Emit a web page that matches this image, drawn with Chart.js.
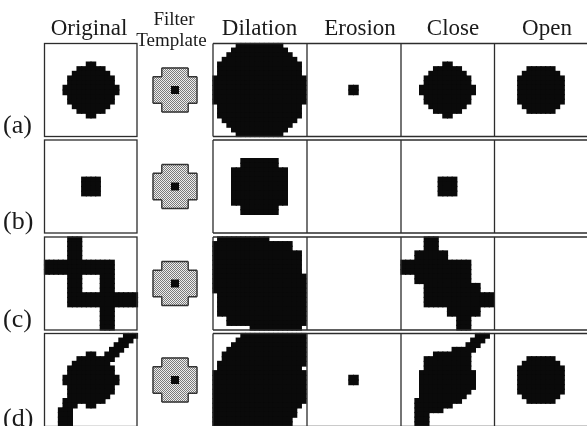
<!DOCTYPE html>
<html><head><meta charset="utf-8">
<script src="https://cdn.jsdelivr.net/npm/chart.js@4.4.1/dist/chart.umd.min.js"></script>
<style>html,body{margin:0;padding:0;background:#fff}#wrap{position:relative;width:587px;height:426px}</style>
</head><body><div id="wrap"><canvas id="c"></canvas></div>
<script>
// ---------------- data ----------------
const COLUMN_HEADERS = ['Original', 'Dilation', 'Erosion', 'Close', 'Open'];
const TEMPLATE_HEADER = ['Filter', 'Template'];
const ROW_LABELS = ['(a)', '(b)', '(c)', '(d)'];

// 10x10 structuring element: '#' = member, '@' = origin, '.' = outside
const FILTER_TEMPLATE = [
"..######..",
"..######..",
"##########",
"##########",
"####@@####",
"####@@####",
"##########",
"##########",
"..######..",
"..######.."
];

// 20x20 binary images ('#' = black pixel)
const ORIGINAL_A = [
"....................",
"....................",
"....................",
"....................",
".........##.........",
".......######.......",
"......########......",
".....##########.....",
".....##########.....",
"....############....",
"....############....",
".....##########.....",
".....##########.....",
"......########......",
".......######.......",
".........##.........",
"....................",
"....................",
"....................",
"...................."
];
const DILATION_A = [
".....##########.....",
"....############....",
"...##############...",
"..################..",
".##################.",
".##################.",
".##################.",
"####################",
"####################",
"####################",
"####################",
"####################",
"####################",
".##################.",
".##################.",
".##################.",
"..################..",
"...##############...",
"....############....",
".....##########....."
];
const EROSION_A = [
"....................",
"....................",
"....................",
"....................",
"....................",
"....................",
"....................",
"....................",
"....................",
".........##.........",
".........##.........",
"....................",
"....................",
"....................",
"....................",
"....................",
"....................",
"....................",
"....................",
"...................."
];
const CLOSE_A = [
"....................",
"....................",
"....................",
"....................",
".........##.........",
".......######.......",
"......########......",
".....##########.....",
".....##########.....",
"....############....",
"....############....",
".....##########.....",
".....##########.....",
"......########......",
".......######.......",
".........##.........",
"....................",
"....................",
"....................",
"...................."
];
const OPEN_A = [
"....................",
"....................",
"....................",
"....................",
"....................",
".......######.......",
"......########......",
".....##########.....",
".....##########.....",
".....##########.....",
".....##########.....",
".....##########.....",
".....##########.....",
"......########......",
".......######.......",
"....................",
"....................",
"....................",
"....................",
"...................."
];

const ORIGINAL_B = [
"....................",
"....................",
"....................",
"....................",
"....................",
"....................",
"....................",
"....................",
"........####........",
"........####........",
"........####........",
"........####........",
"....................",
"....................",
"....................",
"....................",
"....................",
"....................",
"....................",
"...................."
];
const DILATION_B = [
"....................",
"....................",
"....................",
"....................",
"......########......",
"......########......",
"....############....",
"....############....",
"....############....",
"....############....",
"....############....",
"....############....",
"....############....",
"....############....",
"......########......",
"......########......",
"....................",
"....................",
"....................",
"...................."
];
const EROSION_B = [];
const CLOSE_B = [
"....................",
"....................",
"....................",
"....................",
"....................",
"....................",
"....................",
"....................",
"........####........",
"........####........",
"........####........",
"........####........",
"....................",
"....................",
"....................",
"....................",
"....................",
"....................",
"....................",
"...................."
];
const OPEN_B = [];

const ORIGINAL_C = [
".....###............",
".....###............",
".....###............",
".....###............",
".....###............",
"###############.....",
"###############.....",
"###############.....",
".....###....###.....",
".....###....###.....",
".....###....###.....",
".....###....###.....",
".....###############",
".....###############",
".....###############",
"............###.....",
"............###.....",
"............###.....",
"............###.....",
"............###....."
];
const DILATION_C = [
".###########........",
"#################...",
"#################...",
"###################.",
"###################.",
"###################.",
"###################.",
"###################.",
"####################",
"####################",
"####################",
"####################",
".###################",
".###################",
".###################",
".###################",
".###################",
"...#################",
"...#################",
"........###########."
];
const EROSION_C = [];
const CLOSE_C = [
".....###............",
".....###............",
".....###............",
"...#######..........",
"...#######..........",
"###############.....",
"###############.....",
"###############.....",
"...############.....",
"...############.....",
".....############...",
".....############...",
".....###############",
".....###############",
".....###############",
"..........#######...",
"..........#######...",
"............###.....",
"............###.....",
"............###....."
];
const OPEN_C = [];

const ORIGINAL_D = [
".................###",
"................###.",
"...............###..",
"..............###...",
".........##..###....",
".......########.....",
"......########......",
".....##########.....",
".....##########.....",
"....############....",
"....############....",
".....##########.....",
".....##########.....",
".....#########......",
"....#########.......",
"....###..##.........",
"...###..............",
"...###..............",
"...###..............",
"...###.............."
];
const DILATION_D = [
"......##############",
".....###############",
"....################",
"...#################",
"..##################",
"..##################",
".###################",
".##################.",
"####################",
"####################",
"####################",
"####################",
"####################",
"####################",
"####################",
"###################.",
"##################..",
"##################..",
"#################...",
"#################..."
];
const EROSION_D = [
"....................",
"....................",
"....................",
"....................",
"....................",
"....................",
"....................",
"....................",
"....................",
".........##.........",
".........##.........",
"....................",
"....................",
"....................",
"....................",
"....................",
"....................",
"....................",
"....................",
"...................."
];
const CLOSE_D = [
"................###.",
"...............###..",
"..............###...",
"...........#####....",
".......########.....",
".....##########.....",
".....##########.....",
".....##########.....",
"....############....",
"....############....",
"....############....",
"....############....",
"....###########.....",
"....##########......",
"...##########.......",
"...########.........",
"...######...........",
"...###..............",
"...###..............",
"...###.............."
];
const OPEN_D = [
"....................",
"....................",
"....................",
"....................",
"....................",
".......######.......",
"......########......",
".....##########.....",
".....##########.....",
".....##########.....",
".....##########.....",
".....##########.....",
".....##########.....",
"......########......",
".......######.......",
"....................",
"....................",
"....................",
"....................",
"...................."
];

// ---------------- layout ----------------
const W = 587, H = 426;
const ROW_TOP = [43.5, 140, 237, 333.5];
const PANEL_H = 93;
const CELL = 4.65;
const ORIG_LEFT = 44.5, ORIG_RIGHT = 137;
const RIGHT_LEFT = [213, 307, 401, 494.5];
const RIGHT_END = 590;
const TEMPLATE_CX = 175, TEMPLATE_CELL = 4.4;
const HEADER_X = [89, 259.5, 360, 453, 547];
const HEADER_BASE = 35;
const TEMPLATE_HDR_X = [174, 171.5], TEMPLATE_HDR_BASE = [25, 46];
const LABEL_BASE = [133, 229, 327, 426];

const ROWS = [
  [ORIGINAL_A, DILATION_A, EROSION_A, CLOSE_A, OPEN_A],
  [ORIGINAL_B, DILATION_B, EROSION_B, CLOSE_B, OPEN_B],
  [ORIGINAL_C, DILATION_C, EROSION_C, CLOSE_C, OPEN_C],
  [ORIGINAL_D, DILATION_D, EROSION_D, CLOSE_D, OPEN_D]
];
const PANEL_LEFT = [ORIG_LEFT, ...RIGHT_LEFT];

const canvas = document.getElementById('c');
const pc = document.createElement('canvas');
pc.width = 2; pc.height = 2;
const pctx = pc.getContext('2d');
pctx.fillStyle = '#eeeeee'; pctx.fillRect(0, 0, 2, 2);
pctx.fillStyle = '#7a7a7a'; pctx.fillRect(0, 0, 1, 1); pctx.fillRect(1, 1, 1, 1);
const dotPattern = canvas.getContext('2d').createPattern(pc, 'repeat');

function radiusFor(size, extra) {
  return (ctx) => {
    const xs = ctx.chart.scales.x;
    return (xs.getPixelForValue(size) - xs.getPixelForValue(0) + extra) / Math.SQRT2;
  };
}
function cellDataset(pts, size, fill, extra) {
  return {data: pts, pointStyle: 'rect', pointRadius: radiusFor(size, extra), pointHoverRadius: radiusFor(size, extra),
    backgroundColor: fill, pointBackgroundColor: fill, borderWidth: 0, pointBorderWidth: 0,
    pointHoverBorderWidth: 0, pointBorderColor: 'rgba(0,0,0,0)', showLine: false};
}

const datasets = [];
ROWS.forEach((panels, ri) => {
  panels.forEach((grid, pi) => {
    const pts = [];
    grid.forEach((line, r) => {
      for (let c = 0; c < line.length; c++) {
        if (line[c] === '#') pts.push({x: PANEL_LEFT[pi] + (c + 0.5) * CELL, y: ROW_TOP[ri] + (r + 0.5) * CELL});
      }
    });
    datasets.push(cellDataset(pts, CELL, '#0a0a0a', 1.2));
  });
  // filter template
  const n = FILTER_TEMPLATE.length;
  const tx0 = TEMPLATE_CX - n / 2 * TEMPLATE_CELL, ty0 = ROW_TOP[ri] + PANEL_H / 2 - n / 2 * TEMPLATE_CELL;
  const gray = [], core = [];
  FILTER_TEMPLATE.forEach((line, r) => {
    for (let c = 0; c < line.length; c++) {
      const p = {x: tx0 + (c + 0.5) * TEMPLATE_CELL, y: ty0 + (r + 0.5) * TEMPLATE_CELL};
      if (line[c] === '#') gray.push(p); else if (line[c] === '@') core.push(p);
    }
  });
  datasets.push(cellDataset(gray, TEMPLATE_CELL, dotPattern, 0.8));
  datasets.push(cellDataset(core, TEMPLATE_CELL, '#0a0a0a', 0.8));
});

const framePlugin = {
  id: 'frames',
  afterDatasetsDraw(chart) {
    const {ctx, scales: {x, y}} = chart;
    const X = v => x.getPixelForValue(v), Y = v => y.getPixelForValue(v);
    ctx.save();
    ctx.strokeStyle = '#2c2c2c';
    ctx.lineWidth = 1.3;
    ROW_TOP.forEach(t => {
      ctx.strokeRect(X(ORIG_LEFT), Y(t), X(ORIG_RIGHT) - X(ORIG_LEFT), Y(t + PANEL_H) - Y(t));
      ctx.beginPath();
      ctx.moveTo(X(RIGHT_LEFT[0]), Y(t)); ctx.lineTo(X(RIGHT_END), Y(t));
      ctx.moveTo(X(RIGHT_LEFT[0]), Y(t + PANEL_H)); ctx.lineTo(X(RIGHT_END), Y(t + PANEL_H));
      RIGHT_LEFT.forEach(l => { ctx.moveTo(X(l), Y(t)); ctx.lineTo(X(l), Y(t + PANEL_H)); });
      ctx.stroke();
      // template outline
      const n = FILTER_TEMPLATE.length, tc = TEMPLATE_CELL;
      const tx0 = TEMPLATE_CX - n / 2 * tc, ty0 = t + PANEL_H / 2 - n / 2 * tc;
      const on = (r, c) => r >= 0 && r < n && c >= 0 && c < n && FILTER_TEMPLATE[r][c] !== '.';
      ctx.beginPath();
      for (let r = 0; r < n; r++) for (let c = 0; c < n; c++) {
        if (!on(r, c)) continue;
        const xa = tx0 + c * tc, xb = xa + tc, ya = ty0 + r * tc, yb = ya + tc;
        if (!on(r - 1, c)) { ctx.moveTo(X(xa), Y(ya)); ctx.lineTo(X(xb), Y(ya)); }
        if (!on(r + 1, c)) { ctx.moveTo(X(xa), Y(yb)); ctx.lineTo(X(xb), Y(yb)); }
        if (!on(r, c - 1)) { ctx.moveTo(X(xa), Y(ya)); ctx.lineTo(X(xa), Y(yb)); }
        if (!on(r, c + 1)) { ctx.moveTo(X(xb), Y(ya)); ctx.lineTo(X(xb), Y(yb)); }
      }
      ctx.lineWidth = 1.4;
      ctx.strokeStyle = '#333';
      ctx.stroke();
      ctx.lineWidth = 1.3;
      ctx.strokeStyle = '#2c2c2c';
    });
    // text
    ctx.fillStyle = '#1a1a1a';
    ctx.textAlign = 'center';
    ctx.textBaseline = 'alphabetic';
    ctx.font = '23px "Liberation Serif", "Times New Roman", serif';
    COLUMN_HEADERS.forEach((h, i) => ctx.fillText(h, X(HEADER_X[i]), Y(HEADER_BASE)));
    ctx.font = '19px "Liberation Serif", "Times New Roman", serif';
    TEMPLATE_HEADER.forEach((h, i) => ctx.fillText(h, X(TEMPLATE_HDR_X[i]), Y(TEMPLATE_HDR_BASE[i])));
    ctx.textAlign = 'left';
    ctx.font = '26px "Liberation Serif", "Times New Roman", serif';
    ROW_LABELS.forEach((l, i) => ctx.fillText(l, X(3), Y(LABEL_BASE[i])));
    ctx.restore();
  }
};

new Chart(canvas, {
  type: 'scatter',
  data: {datasets},
  options: {
    responsive: true,
    maintainAspectRatio: false,
    animation: false,
    events: [],
    layout: {padding: 0},
    plugins: {legend: {display: false}, tooltip: {enabled: false}},
    scales: {
      x: {type: 'linear', min: 0, max: W, display: false},
      y: {type: 'linear', min: 0, max: H, reverse: true, display: false}
    }
  },
  plugins: [framePlugin]
});
</script>
</body></html>
